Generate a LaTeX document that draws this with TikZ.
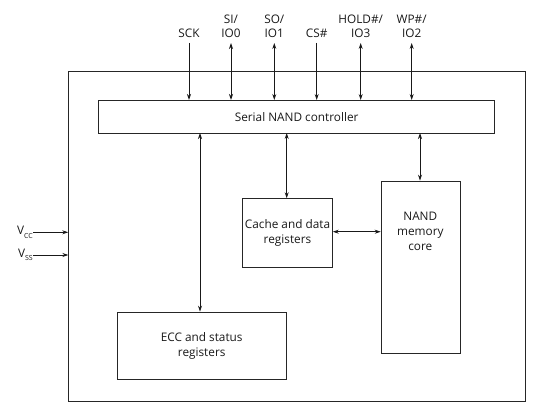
\documentclass[tikz,border=0pt]{standalone}
\usepackage{fontspec}
\setmainfont{Open Sans}
\usetikzlibrary{arrows.meta}
\begin{document}
\begin{tikzpicture}[x=1pt,y=-1pt,
  box/.style={draw=black!85,line width=1pt,inner sep=0pt},
  lbl/.style={font=\fontsize{11.8}{15}\selectfont,align=center,inner sep=0pt,text=black!90},
  conn/.style={draw=black!90,line width=0.8pt,-{Stealth[length=6pt,width=4pt]}},
  bconn/.style={draw=black!90,line width=0.8pt,{Stealth[length=6pt,width=4pt]}-{Stealth[length=6pt,width=4pt]}}]
\useasboundingbox (0,0) rectangle (539,417);
% outer
\node[box,minimum width=457pt,minimum height=329.5pt,anchor=north west] (chip) at (68.3,71.3) {};
\node[box,minimum width=395.7pt,minimum height=33pt,anchor=north west,lbl] (ctrl) at (98.3,100) {Serial NAND controller};
\node[box,minimum width=89.4pt,minimum height=68.4pt,anchor=north west,lbl] (cache) at (242.3,198.3) {Cache and data\\registers};
\node[box,minimum width=79.3pt,minimum height=172pt,anchor=north west] (nand) at (380.7,180.7) {};
\node[lbl] at (420.3,231.7) {NAND\\memory\\core};
\node[box,minimum width=169pt,minimum height=67.3pt,anchor=north west,lbl] (ecc) at (116.7,311.7) {ECC and status\\registers};
% pin labels
\node[lbl,anchor=base] (sck) at (189,37.5) {SCK};
\node[lbl,anchor=base] (si) at (231,37.5) {IO0};
\node[lbl,anchor=base] at (231,24) {SI/};
\node[lbl,anchor=base] (so) at (274.3,37.5) {IO1};
\node[lbl,anchor=base] at (274.3,24) {SO/};
\node[lbl,anchor=base] (cs) at (316.7,37.5) {CS\#};
\node[lbl,anchor=base] (hold) at (360.7,37.5) {IO3};
\node[lbl,anchor=base] at (360.7,24) {HOLD\#/};
\node[lbl,anchor=base] (wp) at (411.7,37.5) {IO2};
\node[lbl,anchor=base] at (411.7,24) {WP\#/};
\coordinate (sckb) at (189,43); \coordinate (sib) at (231,43);
\coordinate (sob) at (274.3,43); \coordinate (csb) at (316.7,43);
\coordinate (holdb) at (360.7,43); \coordinate (wpb) at (411.7,43);
\draw[conn] (sckb) -- (sckb |- ctrl.north);
\draw[bconn] (sib) -- (sib |- ctrl.north);
\draw[bconn] (sob) -- (sob |- ctrl.north);
\draw[conn] (csb) -- (csb |- ctrl.north);
\draw[bconn] (holdb) -- (holdb |- ctrl.north);
\draw[bconn] (wpb) -- (wpb |- ctrl.north);
% internal
\coordinate (e) at (200,133); \coordinate (c) at (286.7,133); \coordinate (n) at (420,133);
\draw[bconn] (e) -- (e |- ecc.north);
\draw[bconn] (c) -- (c |- cache.north);
\draw[bconn] (n) -- (n |- nand.north);
\draw[bconn] (cache.east |- 0,231.7) -- (nand.west |- 0,231.7);
% power
\node[lbl,anchor=east] (vcc) at (33,232.3) {V\raisebox{-0.5ex}{\fontsize{7}{8}\selectfont CC}};
\node[lbl,anchor=east] (vss) at (33,255) {V\raisebox{-0.5ex}{\fontsize{7}{8}\selectfont SS}};
\draw[conn] (vcc.east) -- (vcc.east -| chip.west);
\draw[conn] (vss.east) -- (vss.east -| chip.west);
\end{tikzpicture}
\end{document}
